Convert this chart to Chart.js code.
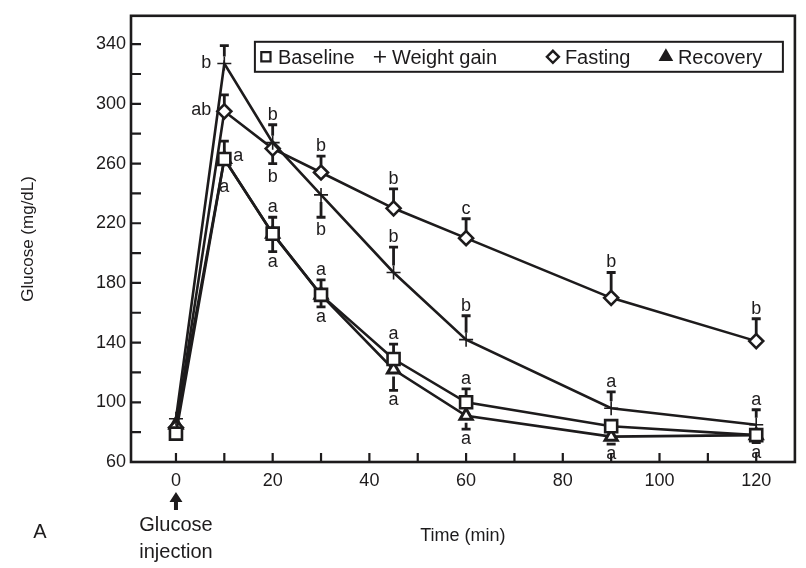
<!DOCTYPE html>
<html>
<head>
<meta charset="utf-8">
<script src="https://cdn.jsdelivr.net/npm/chart.js@4.4.0/dist/chart.umd.min.js"></script>
<style>
  html, body { margin: 0; padding: 0; background: #fff; }
</style>
</head>
<body>
<canvas id="glucoseChart" width="806" height="568"></canvas>
<script>
// data
var times = [0, 10, 20, 30, 45, 60, 90, 120];
var xTicks = [0, 10, 20, 30, 40, 50, 60, 70, 80, 90, 100, 110, 120];
var yTicks = [60, 80, 100, 120, 140, 160, 180, 200, 220, 240, 260, 280, 300, 320, 340];
var seriesNames = ["Baseline", "Weight gain", "Fasting", "Recovery"];

var baseline = [79, 263, 213, 172, 129, 100, 84, 78];
var baselineErrUp = [null, 12, 11, 10, 10, 9, null, null];
var baselineErrDown = [null, null, null, null, null, null, null, null];
var baselineLetters = [null, "a", "a", "a", "a", "a", null, null];
var baselineLetterSide = [null, "right", "above", "above", "above", "above", null, null];

var weightGain = [89, 327, 274, 239, 187, 142, 96, 85];
var weightGainErrUp = [null, 12, 12, null, 17, 16, 11, 10];
var weightGainErrDown = [null, null, null, 15, null, null, null, null];
var weightGainLetters = [null, "b", "b", "b", "b", "b", "a", "a"];
var weightGainLetterSide = [null, "left", "above", "below", "above", "above", "above", "above"];

var fasting = [83, 295, 270, 254, 230, 210, 170, 141];
var fastingErrUp = [null, 11, null, 11, 13, 13, 17, 15];
var fastingErrDown = [null, null, 10, null, null, null, null, null];
var fastingLetters = [null, "ab", "b", "b", "b", "c", "b", "b"];
var fastingLetterSide = [null, "left", "below", "above", "above", "above", "above", "above"];

var recovery = [85, 263, 213, 172, 122, 91, 77, 78];
var recoveryErrUp = [null, null, null, null, null, null, null, null];
var recoveryErrDown = [null, null, 12, 8, 14, 9, 5, 5];
var recoveryLetters = [null, "a", "a", "a", "a", "a", "a", "a"];
var recoveryLetterSide = [null, "below", "below", "below", "below", "below", "below", "below"];

var INK = "#1d1b1c";
var FONT = "'Liberation Sans', Arial, Helvetica, sans-serif";

function toPoints(vals) {
  return times.map(function (t, i) { return { x: t, y: vals[i] }; });
}

var extras = [
  { values: baseline, up: baselineErrUp, down: baselineErrDown, letters: baselineLetters, side: baselineLetterSide },
  { values: weightGain, up: weightGainErrUp, down: weightGainErrDown, letters: weightGainLetters, side: weightGainLetterSide },
  { values: fasting, up: fastingErrUp, down: fastingErrDown, letters: fastingLetters, side: fastingLetterSide },
  { values: recovery, up: recoveryErrUp, down: recoveryErrDown, letters: recoveryLetters, side: recoveryLetterSide }
];

function drawBar(ctx, px, from, to) {
  ctx.beginPath();
  if (Math.abs(to - from) > 1) {
    ctx.moveTo(px, from);
    ctx.lineTo(px, to);
  }
  ctx.moveTo(px - 4.5, to);
  ctx.lineTo(px + 4.5, to);
  ctx.stroke();
}

// error bars + significance letters
var errorBarPlugin = {
  id: "errorBars",
  afterDatasetsDraw: function (chart) {
    var ctx = chart.ctx, xs = chart.scales.x, ys = chart.scales.y;
    ctx.save();
    ctx.strokeStyle = INK;
    ctx.fillStyle = INK;
    ctx.lineWidth = 2.8;
    ctx.font = "18px " + FONT;
    extras.forEach(function (s) {
      times.forEach(function (t, i) {
        var px = xs.getPixelForValue(t);
        var py = ys.getPixelForValue(s.values[i]);
        var top = py - 16, bottom = py + 18;
        if (s.up[i] != null) {
          top = ys.getPixelForValue(s.values[i] + s.up[i]);
          drawBar(ctx, px, py - 7, top);
        }
        if (s.down[i] != null) {
          bottom = ys.getPixelForValue(s.values[i] - s.down[i]);
          drawBar(ctx, px, py + 7, bottom);
        }
        var txt = s.letters[i];
        if (!txt) return;
        var side = s.side[i];
        ctx.textBaseline = "alphabetic";
        if (side === "above") {
          ctx.textAlign = "center";
          ctx.fillText(txt, px, top - 5);
        } else if (side === "below") {
          ctx.textAlign = "center";
          var m = ctx.measureText(txt);
          ctx.fillText(txt, px, bottom + 5 + m.actualBoundingBoxAscent);
        } else if (side === "left") {
          ctx.textAlign = "right";
          ctx.fillText(txt, px - 13, py + 4);
        } else {
          ctx.textAlign = "left";
          ctx.fillText(txt, px + 9, py + 2);
        }
      });
    });
    ctx.restore();
  }
};

// frame, inward ticks, legend box and the notes under the axis
var framePlugin = {
  id: "frame",
  afterDraw: function (chart) {
    var ctx = chart.ctx, a = chart.chartArea, xs = chart.scales.x, ys = chart.scales.y;
    ctx.save();
    ctx.strokeStyle = INK;
    ctx.fillStyle = INK;
    ctx.lineWidth = 2.6;
    ctx.strokeRect(a.left, a.top, a.right - a.left, a.bottom - a.top);

    ctx.lineWidth = 2.2;
    ctx.beginPath();
    xTicks.forEach(function (v) {
      var px = xs.getPixelForValue(v);
      ctx.moveTo(px, a.bottom);
      ctx.lineTo(px, a.bottom - 9);
    });
    yTicks.forEach(function (v) {
      var py = ys.getPixelForValue(v);
      ctx.moveTo(a.left, py);
      ctx.lineTo(a.left + 10, py);
    });
    ctx.stroke();

    // legend
    var bx = a.right - 540, by = a.top + 26, bw = 528, bh = 30;
    ctx.lineWidth = 2;
    ctx.strokeRect(bx, by, bw, bh);
    var offsets = [11, 125, 298, 411];
    var cy = by + bh / 2;
    ctx.font = "20px " + FONT;
    ctx.textAlign = "left";
    ctx.textBaseline = "alphabetic";
    chart.data.datasets.forEach(function (ds, i) {
      var mx = bx + offsets[i];
      ctx.fillStyle = ds.legendFill;
      ctx.lineWidth = ds.legendBorder;
      Chart.helpers.drawPoint(ctx, { pointStyle: ds.pointStyle, radius: ds.legendRadius, borderWidth: ds.legendBorder }, mx, cy);
      ctx.fillStyle = INK;
      ctx.fillText(ds.label, mx + 12, cy + 7);
    });

    // glucose injection marker
    var x0 = xs.getPixelForValue(0);
    ctx.beginPath();
    ctx.moveTo(x0, 492);
    ctx.lineTo(x0 - 6.5, 502);
    ctx.lineTo(x0 - 2, 502);
    ctx.lineTo(x0 - 2, 510);
    ctx.lineTo(x0 + 2, 510);
    ctx.lineTo(x0 + 2, 502);
    ctx.lineTo(x0 + 6.5, 502);
    ctx.closePath();
    ctx.fill();
    ctx.font = "20px " + FONT;
    ctx.textAlign = "center";
    ctx.fillText("Glucose", x0, 531);
    ctx.fillText("injection", x0, 558);
    ctx.fillText("A", 40, 538);
    ctx.restore();
  }
};

var styleOf = {
  "Baseline": { pointStyle: "rect", pointRadius: 8.5, pointBorderWidth: 2.6, legendRadius: 6.5, legendBorder: 2.2, legendFill: "#fff" },
  "Weight gain": { pointStyle: "cross", pointRadius: 7, pointBorderWidth: 1.6, legendRadius: 6, legendBorder: 1.6, legendFill: "#fff" },
  "Fasting": { pointStyle: "rectRot", pointRadius: 7, pointBorderWidth: 2.6, legendRadius: 6, legendBorder: 2.4, legendFill: "#fff" },
  "Recovery": { pointStyle: "triangle", pointRadius: 7, pointBorderWidth: 3, legendRadius: 6.5, legendBorder: 2, legendFill: INK }
};
var seriesValues = [baseline, weightGain, fasting, recovery];

var datasets = seriesNames.map(function (name, i) {
  var st = styleOf[name];
  return {
    label: name,
    data: toPoints(seriesValues[i]),
    borderColor: INK,
    backgroundColor: "#fff",
    borderWidth: 2.6,
    pointStyle: st.pointStyle,
    pointRadius: st.pointRadius,
    pointBorderWidth: st.pointBorderWidth,
    pointBackgroundColor: "#fff",
    pointBorderColor: INK,
    legendRadius: st.legendRadius,
    legendBorder: st.legendBorder,
    legendFill: st.legendFill,
    tension: 0,
    clip: false
  };
});

var ctx = document.getElementById("glucoseChart").getContext("2d");
var chart = new Chart(ctx, {
  type: "line",
  data: { datasets: datasets },
  options: {
    responsive: false,
    animation: false,
    layout: { padding: { left: 0, top: 6, right: 9, bottom: 0 } },
    plugins: { legend: { display: false }, tooltip: { enabled: false } },
    scales: {
      x: {
        type: "linear",
        min: -9.3,
        max: 128,
        afterBuildTicks: function (axis) {
          axis.ticks = xTicks.map(function (v) { return { value: v }; });
        },
        afterFit: function (axis) { axis.height = 106; },
        grid: { display: false, drawTicks: false },
        border: { display: false },
        ticks: {
          autoSkip: false,
          maxRotation: 0,
          padding: 8,
          color: INK,
          font: { family: FONT, size: 18 },
          callback: function (v) { return v % 20 === 0 ? v : ""; }
        },
        title: {
          display: true,
          text: "Time (min)",
          color: INK,
          font: { family: FONT, size: 18 },
          padding: { top: 0, bottom: 21 }
        }
      },
      y: {
        type: "linear",
        min: 60,
        max: 359,
        afterBuildTicks: function (axis) {
          axis.ticks = yTicks.map(function (v) { return { value: v }; });
        },
        afterFit: function (axis) { axis.width = 131; },
        grid: { display: false, drawTicks: false },
        border: { display: false },
        ticks: {
          autoSkip: false,
          padding: 5,
          color: INK,
          font: { family: FONT, size: 18 },
          callback: function (v) { return (v - 60) % 40 === 0 ? v : ""; }
        },
        title: {
          display: true,
          text: "Glucose (mg/dL)",
          color: INK,
          font: { family: FONT, size: 17 },
          padding: { top: 18, bottom: 0 }
        }
      }
    }
  },
  plugins: [errorBarPlugin, framePlugin]
});
</script>
</body>
</html>
